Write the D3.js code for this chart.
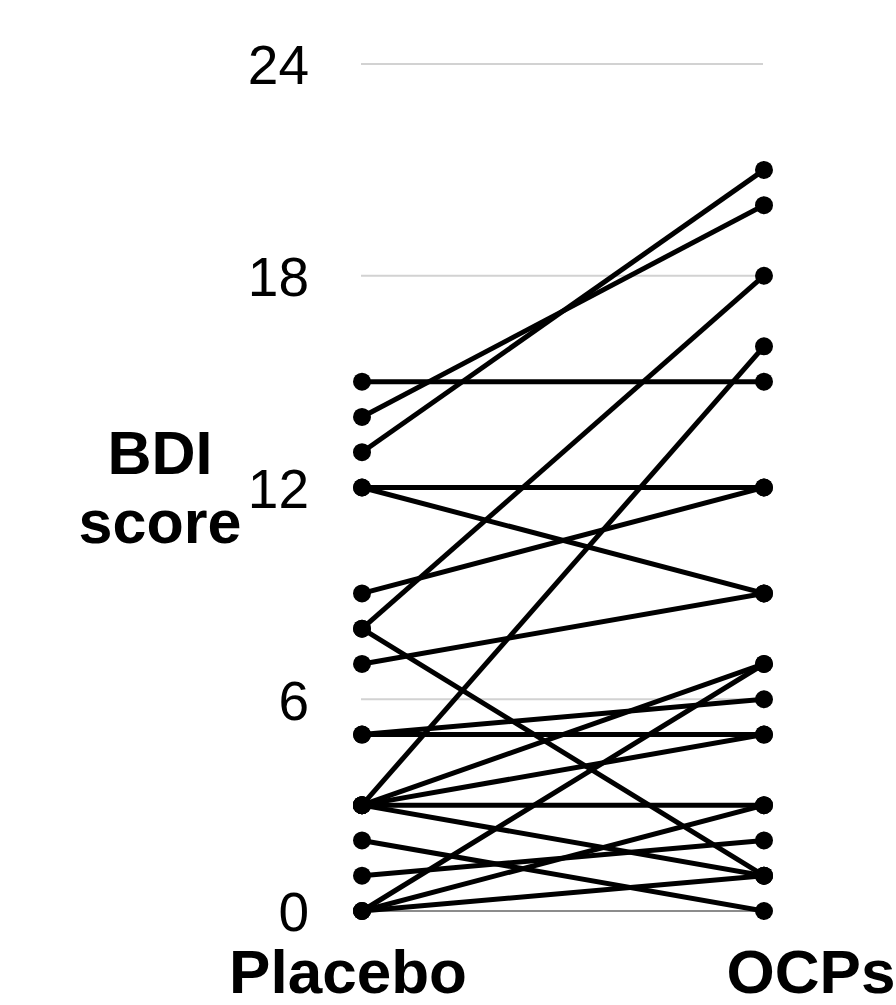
<!DOCTYPE html>
<html>
<head>
<meta charset="utf-8">
<script src="https://cdn.jsdelivr.net/npm/d3@7"></script>
<style>
  html, body { margin: 0; padding: 0; background: #fff; }
  svg { display: block; }
</style>
</head>
<body>
<svg id="chart" width="896" height="1005"></svg>
<script>
// Data: paired BDI scores per subject
const conditions = ["Placebo", "OCPs"];
const placebo = [15, 14, 13, 12, 12, 9, 8, 8, 7, 5, 5, 3, 3, 3, 3, 3, 2, 1, 0, 0, 0];
const ocps    = [15, 20, 21, 12, 9, 12, 18, 1, 9, 6, 5, 16, 7, 5, 3, 1, 0, 2, 7, 3, 1];
const yTicks = [0, 6, 12, 18, 24];
const yLabelLines = ["BDI", "score"];

const svg = d3.select("#chart");
const font = "'Liberation Sans', Arial, Helvetica, sans-serif";

const x = d3.scalePoint().domain(conditions).range([362, 764]);
const y = d3.scaleLinear().domain([0, 24]).range([911, 64]);

// gridlines
svg.append("g").selectAll("line")
  .data(yTicks)
  .join("line")
  .attr("x1", x("Placebo") - 1)
  .attr("x2", x("OCPs") - 1)
  .attr("y1", d => y(d))
  .attr("y2", d => y(d))
  .attr("stroke", d => d === 0 ? "#8c8c8c" : "#d2d2d2")
  .attr("stroke-width", 2);

// y axis tick labels
const yAxis = d3.axisLeft(y).tickValues(yTicks).tickSize(0).tickPadding(0).tickFormat(d3.format("d"));
const gy = svg.append("g").attr("transform", "translate(309,0)").call(yAxis);
gy.select(".domain").remove();
gy.selectAll("text")
  .attr("font-family", font)
  .attr("font-size", 55)
  .attr("fill", "#000")
  .attr("dy", "0.36em");

// y title
svg.append("text")
  .attr("x", 160)
  .attr("font-family", font)
  .attr("font-weight", "bold")
  .attr("font-size", 61)
  .attr("text-anchor", "middle")
  .selectAll("tspan")
  .data(yLabelLines)
  .join("tspan")
  .attr("x", 160)
  .attr("y", (d, i) => 474 + i * 69)
  .text(d => d);

// x labels
const xLabelOffset = { "Placebo": -14, "OCPs": 47 };
svg.append("g").selectAll("text")
  .data(conditions)
  .join("text")
  .attr("x", d => x(d) + xLabelOffset[d])
  .attr("y", 993)
  .attr("text-anchor", "middle")
  .attr("font-family", font)
  .attr("font-weight", "bold")
  .attr("font-size", 62)
  .attr("fill", "#000")
  .text(d => d);

// paired lines
const pairs = placebo.map((p, i) => ({ a: p, b: ocps[i] }));
svg.append("g").selectAll("line")
  .data(pairs)
  .join("line")
  .attr("x1", x("Placebo"))
  .attr("x2", x("OCPs"))
  .attr("y1", d => y(d.a))
  .attr("y2", d => y(d.b))
  .attr("stroke", "#000")
  .attr("stroke-width", 5);

// points
const pts = [];
pairs.forEach(d => {
  pts.push({ c: "Placebo", v: d.a });
  pts.push({ c: "OCPs", v: d.b });
});
svg.append("g").selectAll("circle")
  .data(pts)
  .join("circle")
  .attr("cx", d => x(d.c))
  .attr("cy", d => y(d.v))
  .attr("r", 9)
  .attr("fill", "#000");
</script>
</body>
</html>
